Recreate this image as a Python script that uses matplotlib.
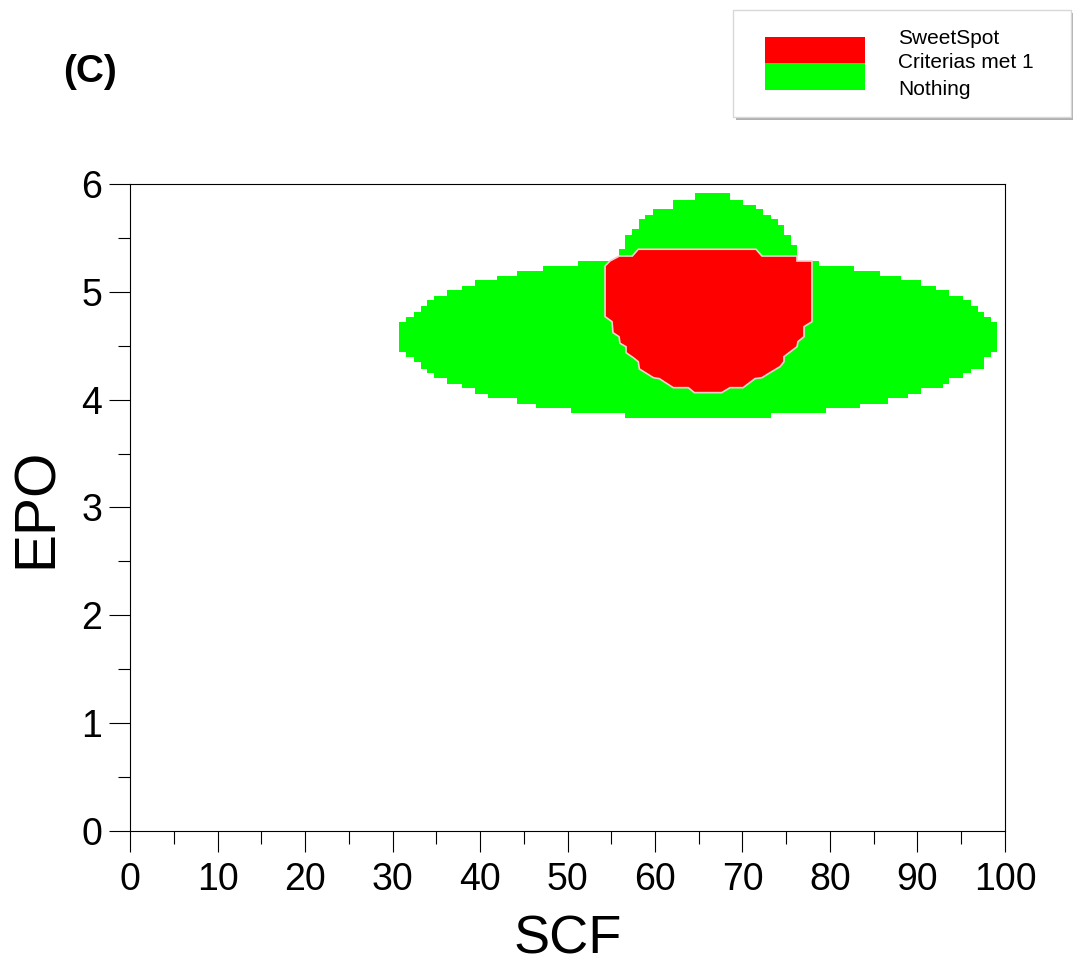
import matplotlib
matplotlib.use("Agg")
import matplotlib.pyplot as plt
from matplotlib.patches import Rectangle
from matplotlib.ticker import MultipleLocator
import numpy as np

plt.rcParams["font.family"] = ["Liberation Sans", "DejaVu Sans"]

# ==================== DATA ====================
# green region ("Criterias met 1"), one entry per grid row, top to bottom
row_edges = [5.914, 5.849, 5.803, 5.766, 5.710, 5.673, 5.617, 5.583, 5.524, 5.432,
             5.395, 5.332, 5.286, 5.240, 5.193, 5.147, 5.110, 5.054, 5.017, 4.959,
             4.922, 4.866, 4.810, 4.764, 4.718, 4.445, 4.399, 4.352, 4.287, 4.250,
             4.204, 4.148, 4.111, 4.056, 4.018, 3.963, 3.923, 3.879, 3.833]
green_left = [64.61, 62.09, 62.09, 59.81, 58.89, 58.21, 58.21, 57.41, 56.61, 56.61,
              55.92, 55.92, 51.20, 47.20, 44.23, 41.94, 39.43, 37.94, 36.23, 34.74,
              33.94, 33.26, 32.46, 31.54, 30.74, 31.54, 32.46, 33.26, 33.94, 34.74,
              36.23, 37.94, 39.43, 40.91, 44.23, 46.40, 50.40, 56.57]
green_right = [68.57, 70.06, 71.54, 72.34, 73.26, 74.06, 74.74, 74.74, 75.54, 76.23,
               76.23, 76.23, 78.74, 82.74, 85.71, 88.11, 90.40, 92.11, 93.60, 95.20,
               96.11, 96.91, 97.60, 98.40, 99.09, 98.40, 97.60, 97.60, 96.11, 95.20,
               93.60, 92.91, 90.40, 88.91, 86.63, 83.43, 79.54, 73.26]

# red region ("SweetSpot") outline
red_scf = [58.09, 57.41, 55.92, 54.86, 54.29, 54.29, 55.09, 55.20, 55.89, 56.00,
           56.69, 56.69, 57.52, 58.09, 58.21, 59.81, 60.49, 62.09, 63.81, 64.49,
           67.62, 68.57, 70.06, 71.43, 72.23, 73.14, 74.29, 74.74, 74.74, 76.23,
           76.34, 77.03, 77.03, 77.94, 77.94, 76.23, 76.23, 72.23, 71.54]
red_epo = [5.395, 5.332, 5.332, 5.286, 5.240, 4.770, 4.723, 4.621, 4.584, 4.523,
           4.491, 4.436, 4.389, 4.352, 4.285, 4.204, 4.195, 4.111, 4.111, 4.065,
           4.065, 4.111, 4.111, 4.195, 4.204, 4.250, 4.306, 4.352, 4.399, 4.491,
           4.538, 4.584, 4.677, 4.723, 5.286, 5.286, 5.332, 5.332, 5.395]

legend_labels = ["SweetSpot", "Criterias met 1", "Nothing"]
RED = "#ff0000"
GREEN = "#00ff00"
# ==============================================

fig = plt.figure(figsize=(10.73, 9.72), dpi=100)
ax = fig.add_axes([0.1212, 0.1451, 0.8154, 0.6656])

tops = np.array(row_edges[:-1])
bottoms = np.array(row_edges[1:])
lefts = np.array(green_left)
rights = np.array(green_right)
ax.barh(bottoms, rights - lefts, left=lefts, height=tops - bottoms, align="edge",
        color=GREEN, linewidth=0, antialiased=False, zorder=1)

ax.fill(red_scf, red_epo, facecolor=RED, edgecolor="#f2d0d0", linewidth=1.2, zorder=2)

ax.set_xlim(0, 100)
ax.set_ylim(0, 6)
ax.xaxis.set_major_locator(MultipleLocator(10))
ax.xaxis.set_minor_locator(MultipleLocator(5))
ax.yaxis.set_major_locator(MultipleLocator(1))
ax.yaxis.set_minor_locator(MultipleLocator(0.5))
ax.tick_params(which="both", direction="out", top=False, right=False, width=0.8, color="black")
ax.tick_params(which="major", length=15, labelsize=27)
ax.tick_params(axis="x", which="major", pad=7)
ax.tick_params(axis="y", which="major", pad=5)
ax.tick_params(which="minor", length=9)
for s in ax.spines.values():
    s.set_linewidth(0.8)
    s.set_color("black")

ax.set_xlabel("SCF", fontsize=39)
ax.set_ylabel("EPO", fontsize=41)
ax.xaxis.set_label_coords(0.5, -0.1685)
ax.xaxis.label.set_va("center")
ax.yaxis.set_label_coords(-0.1063, 0.5)
ax.yaxis.label.set_va("center")

fig.text(0.0839, 0.926, "(C)", fontsize=28, fontweight="bold", ha="center", va="center")

# legend box drawn by hand: two stacked swatches, three labels
fig.patches.append(Rectangle((0.6859, 0.8765), 0.315, 0.1101, transform=fig.transFigure,
                             facecolor="#b0b0b0", edgecolor="none", zorder=1))
fig.patches.append(Rectangle((0.6831, 0.8796), 0.315, 0.1101, transform=fig.transFigure,
                             facecolor="white", edgecolor="#d8d8d8", linewidth=1, zorder=2))
fig.patches.append(Rectangle((0.7130, 0.9352), 0.0932, 0.0267, transform=fig.transFigure,
                             facecolor=RED, edgecolor="none", zorder=3))
fig.patches.append(Rectangle((0.7130, 0.9074), 0.0932, 0.0278, transform=fig.transFigure,
                             facecolor=GREEN, edgecolor="none", zorder=3))
for lab, yy in zip(legend_labels, [0.9609, 0.9352, 0.9084]):
    fig.text(0.8369, yy, lab, fontsize=15, ha="left", va="center", zorder=4)

fig.savefig("out.png", dpi=100)
